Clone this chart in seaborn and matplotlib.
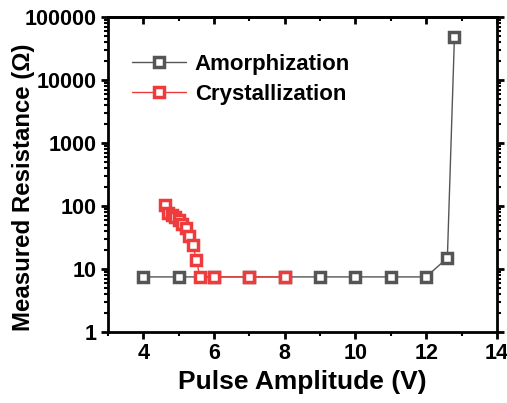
import numpy as np
import pandas as pd
import matplotlib
matplotlib.use("Agg")
import matplotlib.pyplot as plt
import seaborn as sns
from matplotlib.ticker import LogLocator, NullFormatter, FixedLocator

# -----------------------------
# data
# -----------------------------
amor_v = [4, 5, 6, 7, 8, 9, 10, 11, 12, 12.6, 12.8]
amor_r = [7.5, 7.5, 7.5, 7.5, 7.5, 7.5, 7.5, 7.5, 7.5, 15, 48000]

cryst_v = [4.6, 4.7, 4.8, 4.9, 5.0, 5.1, 5.2, 5.3, 5.4, 5.5, 5.6, 6, 7, 8]
cryst_r = [104, 78, 72, 66, 59, 52, 44, 33, 24, 14, 7.5, 7.5, 7.5, 7.5]

y_ticks = [1, 10, 100, 1000, 10000, 100000]
x_ticks = [4, 6, 8, 10, 12, 14]
x_minor = [3, 5, 7, 9, 11, 13]

sns.set_style("ticks")
plt.rcParams['font.family'] = ['Liberation Sans', 'DejaVu Sans']
plt.rcParams['font.weight'] = 'bold'
plt.rcParams['xtick.labelsize'] = 15.5
plt.rcParams['ytick.labelsize'] = 15.5
for k in ['text.color', 'axes.labelcolor', 'xtick.color', 'ytick.color']:
    plt.rcParams[k] = 'black'

gray = "#555555"
red = "#EE3B3B"

fig = plt.figure(figsize=(5.07, 4.03), dpi=100)
ax = fig.add_axes([0.213, 0.176, 0.767, 0.782])

sns.lineplot(x=amor_v, y=amor_r, ax=ax, color=gray, lw=1.0,
             marker='s', markersize=6.5, markeredgewidth=2.5,
             markerfacecolor='white', markeredgecolor=gray,
             label="Amorphization")
sns.lineplot(x=cryst_v, y=cryst_r, ax=ax, color=red, lw=1.0,
             marker='s', markersize=6.5, markeredgewidth=2.5,
             markerfacecolor='white', markeredgecolor=red,
             label="Crystallization")

ax.set_yscale('log')
ax.set_ylim(1, 100000)
ax.set_xlim(3, 14)
ax.set_yticks(y_ticks)
ax.set_yticklabels([str(t) for t in y_ticks], fontsize=15.5, fontweight='bold')
ax.yaxis.set_minor_locator(LogLocator(base=10, subs=np.arange(2, 10)))
ax.yaxis.set_minor_formatter(NullFormatter())
ax.set_xticks(x_ticks)
ax.set_xticklabels([str(t) for t in x_ticks], fontsize=15.5, fontweight='bold')
ax.xaxis.set_minor_locator(FixedLocator(x_minor))

for s in ax.spines.values():
    s.set_visible(True)
    s.set_linewidth(2.0)
    s.set_color('black')

ax.tick_params(which='major', direction='out', length=5, width=2, pad=3,
               color='black', labelcolor='black')
ax.tick_params(which='minor', direction='out', length=3, width=1.5, color='black')
ax.tick_params(which='both', top=False, right=True)

# top ticks point inward
top = ax.secondary_xaxis('top')
top.set_xticks(x_ticks)
top.xaxis.set_minor_locator(FixedLocator(x_minor))
top.tick_params(which='major', direction='in', length=5, width=2,
                color='black', labeltop=False)
top.tick_params(which='minor', direction='in', length=3, width=1.5, color='black')
top.spines['top'].set_linewidth(2.0)
top.spines['top'].set_color('black')

ax.set_xlabel("Pulse Amplitude (V)", fontsize=19, fontweight='bold',
              labelpad=4, color='black')
ax.set_ylabel("Measured Resistance (Ω)", fontsize=17.3, fontweight='bold',
              color='black')
ax.yaxis.set_label_coords(-0.188, 0.46)

leg = ax.legend(loc='upper left', bbox_to_anchor=(0.04, 0.912), frameon=False,
                prop={'size': 16, 'weight': 'bold'}, handlelength=2.4,
                labelspacing=0.42, handletextpad=0.4, borderaxespad=0)
for t in leg.get_texts():
    t.set_color('black')

fig.savefig("out.png", dpi=100)
